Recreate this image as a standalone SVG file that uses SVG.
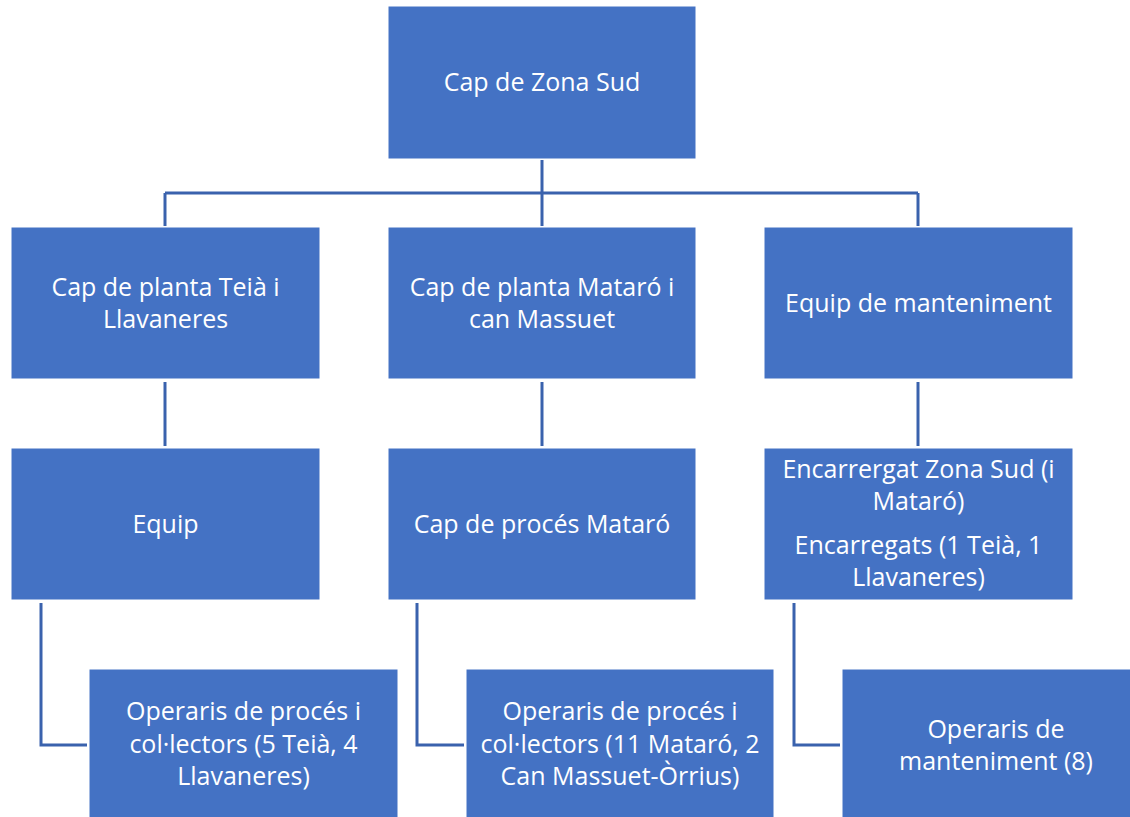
<svg xmlns="http://www.w3.org/2000/svg" width="1130" height="817" viewBox="0 0 1130 817">
<style>
.box{fill:#4472C4;stroke:#ffffff;stroke-width:1}
.t{font-family:"Open Sans","Noto Sans",sans-serif;font-size:25px;fill:#ffffff;text-anchor:middle}
.c{fill:none;stroke:#3A62AD;stroke-width:3}
</style>
<rect width="1130" height="817" fill="#ffffff"/>
<g id="connectors">
<path class="c" d="M542,160 V226"/>
<path class="c" d="M165,193 H918"/>
<path class="c" d="M165,193 V226"/>
<path class="c" d="M918,193 V226"/>
<path class="c" d="M165,382 V446"/>
<path class="c" d="M542,382 V446"/>
<path class="c" d="M918,382 V446"/>
<path class="c" d="M41,603 V745 H87"/>
<path class="c" d="M417,603 V745 H464"/>
<path class="c" d="M794,603 V745 H840"/>
</g>
<g id="n-zona">
<rect class="box" x="388" y="6" width="308" height="153"/>
<text class="t" x="542" y="91">Cap de Zona Sud</text>
</g>
<g id="n-teia">
<rect class="box" x="11" y="227" width="309" height="152"/>
<text class="t" x="165.5" y="296">Cap de planta Teià i</text>
<text class="t" x="165.5" y="328">Llavaneres</text>
</g>
<g id="n-mataro">
<rect class="box" x="388" y="227" width="308" height="152"/>
<text class="t" x="542" y="296">Cap de planta Mataró i</text>
<text class="t" x="542" y="328">can Massuet</text>
</g>
<g id="n-manteniment">
<rect class="box" x="764" y="227" width="309" height="152"/>
<text class="t" x="918.5" y="312">Equip de manteniment</text>
</g>
<g id="n-equip">
<rect class="box" x="11" y="448" width="309" height="152"/>
<text class="t" x="165.5" y="533">Equip</text>
</g>
<g id="n-proces">
<rect class="box" x="388" y="448" width="308" height="152"/>
<text class="t" x="542" y="533">Cap de procés Mataró</text>
</g>
<g id="n-encarregats">
<rect class="box" x="764" y="448" width="309" height="152"/>
<text class="t" x="918.5" y="478">Encarrergat Zona Sud (i</text>
<text class="t" x="918.5" y="510">Mataró)</text>
<text class="t" x="918.5" y="554">Encarregats (1 Teià, 1</text>
<text class="t" x="918.5" y="586">Llavaneres)</text>
</g>
<g id="n-op-teia">
<rect class="box" x="89" y="669" width="309" height="152"/>
<text class="t" x="243.5" y="720">Operaris de procés i</text>
<text class="t" x="243.5" y="753">col·lectors (5 Teià, 4</text>
<text class="t" x="243.5" y="785">Llavaneres)</text>
</g>
<g id="n-op-mataro">
<rect class="box" x="466" y="669" width="308" height="152"/>
<text class="t" x="620" y="720">Operaris de procés i</text>
<text class="t" x="620" y="753">col·lectors (11 Mataró, 2</text>
<text class="t" x="620" y="785">Can Massuet-Òrrius)</text>
</g>
<g id="n-op-mant">
<rect class="box" x="842" y="669" width="308" height="152"/>
<text class="t" x="996" y="738">Operaris de</text>
<text class="t" x="996" y="770">manteniment (8)</text>
</g>
</svg>
